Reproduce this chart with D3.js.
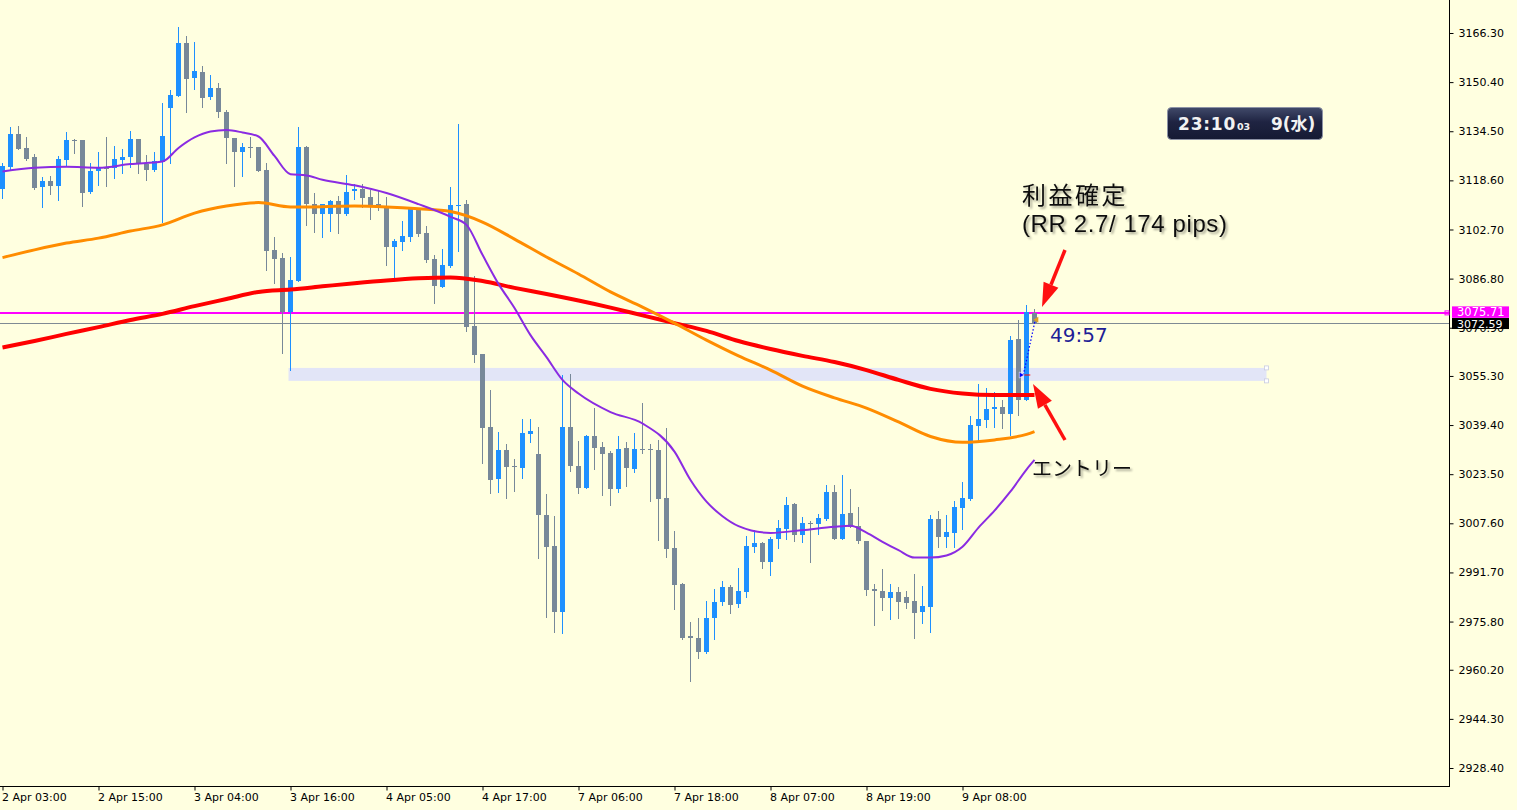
<!DOCTYPE html>
<html><head><meta charset="utf-8">
<script src="https://cdn.jsdelivr.net/npm/d3@7"></script>
<style>body{margin:0;background:#ffffe0;overflow:hidden}</style>
</head><body><svg id="c" width="1517" height="810"></svg>
<script>
// ---- data: hourly candles (index 0 = 2 Apr 03:00) ----
const opens=[3115.7,3123.0,3133.7,3129.1,3126.2,3116.6,3118.4,3116.9,3125.2,3131.7,3131.7,3114.9,3121.4,3122.5,3122.5,3125.2,3126.3,3132.0,3123.9,3122.0,
3124.6,3142.1,3146.0,3163.1,3151.8,3153.7,3145.4,3148.4,3140.6,3132.3,3127.9,3129.4,3129.4,3122.0,3096.1,3093.5,3076.1,3086.1,3129.4,3110.9,
3107.7,3107.7,3111.9,3107.7,3115.2,3115.8,3113.2,3110.9,3110.1,3097.1,3098.8,3100.0,3109.2,3101.6,3093.2,3084.2,3090.9,3110.4,3111.0,3071.5,
3062.4,3038.9,3021.9,3031.3,3026.0,3025.6,3036.6,3030.0,3010.3,3000.3,2979.0,3038.8,3026.2,3019.1,3035.9,3032.3,3030.4,3018.8,3031.9,3025.3,
3031.7,3031.6,3031.3,3015.8,2999.6,2988.0,2971.1,2970.5,2966.0,2977.0,2982.1,2987.0,2981.5,2985.5,3000.0,3001.2,2994.9,3002.5,3005.8,3013.9,
3003.9,3007.6,3007.2,3009.0,3017.7,3002.5,3010.9,3006.7,3001.9,2986.3,2985.7,2983.5,2985.4,2983.8,2982.5,2978.7,2980.6,3009.0,3003.3,3004.6,
3012.7,3015.5,3039.2,3041.1,3044.5,3045.3,3043.0,3067.3,3047.5,3075.7];
const highs=[3124.3,3136.0,3136.2,3132.7,3127.1,3119.8,3120.0,3126.5,3134.3,3132.0,3131.7,3124.3,3127.9,3132.6,3129.7,3128.8,3134.6,3132.0,3126.8,3127.8,
3143.7,3147.9,3168.3,3165.3,3163.4,3155.6,3152.7,3150.2,3141.4,3132.3,3130.6,3132.7,3129.4,3124.1,3100.4,3095.2,3093.9,3136.0,3129.7,3114.4,
3110.9,3112.2,3113.5,3120.3,3117.4,3117.4,3115.5,3115.5,3113.1,3099.6,3105.5,3109.2,3109.2,3103.8,3094.4,3096.4,3116.6,3136.8,3112.2,3087.7,
3062.4,3050.8,3037.3,3033.3,3028.4,3041.4,3041.4,3038.9,3017.1,3010.0,3055.6,3055.9,3034.2,3036.2,3044.8,3034.0,3031.1,3035.9,3034.0,3036.9,
3046.6,3033.3,3034.6,3038.5,3005.1,2988.4,2975.8,2977.0,2982.6,2986.3,2988.9,2987.6,2993.1,3003.5,3005.4,3001.6,3003.2,3008.7,3016.1,3014.2,
3009.6,3008.4,3010.6,3020.1,3020.0,3023.2,3018.7,3013.0,3001.9,2988.0,2992.8,2987.9,2987.0,2985.7,2991.2,2987.4,3010.3,3011.7,3010.3,3014.7,
3021.0,3042.4,3052.6,3051.5,3050.2,3047.5,3068.2,3073.4,3078.3,3076.9];
const lows=[3113.0,3122.0,3128.8,3125.2,3115.9,3110.1,3114.2,3112.2,3123.6,3127.4,3110.3,3114.6,3117.1,3116.8,3119.5,3121.1,3123.0,3121.1,3118.7,3121.7,
3105.2,3124.1,3145.8,3140.8,3148.2,3142.4,3144.9,3139.2,3124.3,3116.9,3120.1,3126.3,3121.7,3089.6,3085.5,3062.6,3057.2,3086.1,3104.2,3102.0,
3100.4,3102.3,3101.7,3107.4,3112.6,3110.1,3106.1,3109.0,3091.2,3087.4,3096.1,3099.1,3100.6,3092.3,3078.8,3084.2,3090.7,3095.8,3069.9,3059.9,
3027.2,3017.3,3017.8,3015.9,3018.1,3022.4,3034.0,2996.5,2977.4,2972.5,2972.2,3024.6,3017.5,3019.1,3025.1,3016.8,3013.5,3017.8,3019.7,3024.3,
3030.5,3014.9,3002.2,2996.8,2979.9,2970.2,2956.7,2964.1,2965.5,2970.2,2981.2,2978.7,2980.6,2983.9,2998.3,2993.2,2991.0,2999.7,3002.5,3001.9,
3001.7,2995.2,3004.2,3008.7,3002.5,3002.5,3006.5,3001.3,2984.5,2974.7,2979.5,2976.6,2977.0,2980.3,2970.4,2975.2,2972.5,3000.0,2999.8,3000.0,
3005.7,3015.2,3034.6,3038.9,3038.9,3038.6,3036.2,3042.7,3047.5,3072.6];
const closes=[3123.3,3133.7,3128.8,3125.6,3116.2,3118.4,3116.9,3125.5,3131.7,3131.6,3114.6,3121.6,3122.5,3122.4,3125.5,3126.2,3132.0,3124.1,3122.0,3124.8,
3133.0,3146.2,3163.1,3151.5,3154.0,3145.4,3148.4,3140.5,3132.1,3127.9,3129.4,3129.3,3121.7,3095.8,3093.2,3076.1,3086.4,3129.4,3110.9,3107.7,
3110.9,3111.9,3107.7,3114.9,3115.8,3113.0,3110.6,3110.1,3097.1,3099.0,3100.6,3109.2,3101.2,3092.8,3084.5,3091.2,3110.6,3110.5,3071.2,3062.1,
3038.6,3021.9,3031.3,3025.9,3025.9,3036.8,3037.5,3010.1,3000.0,2979.0,3038.8,3026.2,3019.1,3035.9,3032.1,3030.1,3018.8,3031.7,3025.3,3031.7,
3031.5,3031.5,3015.6,2999.4,2987.6,2970.4,2970.3,2966.0,2977.0,2982.1,2987.0,2981.3,2985.7,3000.3,3001.2,2994.9,3002.5,3006.1,3013.6,3003.9,
3007.7,3007.5,3009.3,3017.7,3002.5,3010.7,3006.5,3001.7,2986.2,2985.5,2983.5,2985.4,2982.2,2981.9,2978.5,2980.8,3009.0,3003.3,3004.8,3012.9,
3015.8,3039.4,3041.4,3044.6,3045.3,3043.0,3066.9,3047.5,3076.1,3072.6];

// moving averages (candle index, price)
const purpleIdx=[0,4,8,12,16,20,22,24,26,28,30,32,34,36,38,40,44,48,52,56,58,60,62,64,66,68,70,72,76,80,84,86,88,90,92,96,100,104,106,108,110,112,114,116,118,120,122,124,126,128,129];
const purpleVal=[3121.5,3122.7,3123.0,3122.7,3123.9,3124.7,3129.1,3132.5,3134.4,3134.9,3134.1,3132.8,3126.5,3120.6,3120.2,3118.8,3117.0,3114.5,3110.9,3106.8,
3104.2,3094.5,3085.1,3077.3,3068.5,3061.4,3054.0,3049.6,3043.6,3039.9,3030.8,3021.6,3014.6,3009.9,3006.7,3004.5,3005.4,3006.5,3006.8,3004.6,
3001.6,2998.9,2996.5,2996.5,2997.2,3000.0,3006.2,3011.7,3017.9,3025.0,3028.1];
const maIdx=[0,4,8,12,16,20,24,28,32,36,40,44,48,52,56,60,64,68,72,76,80,84,88,92,96,100,104,108,112,116,120,124,128,129];
const orangeVal=[3093.6,3096.1,3098.3,3099.9,3102.2,3104.2,3108.0,3110.3,3111.4,3110.0,3110.1,3110.3,3110.0,3109.4,3108.5,3105.1,3099.6,3093.8,3088.3,3082.5,
3077.6,3072.4,3066.9,3061.8,3057.2,3052.0,3048.2,3044.9,3040.4,3035.7,3033.8,3034.6,3036.4,3037.3];
const redVal=[3064.5,3066.6,3068.9,3071.1,3073.4,3075.4,3077.9,3080.2,3082.5,3083.3,3084.3,3085.3,3086.2,3086.9,3087.2,3086.0,3083.8,3081.8,3079.7,3077.4,
3074.9,3072.4,3069.9,3066.6,3064.0,3061.8,3059.8,3057.2,3054.0,3051.1,3049.6,3049.1,3049.1,3049.1];

const yTicks=[3166.30,3150.40,3134.50,3118.60,3102.70,3086.80,3070.90,3055.30,3039.40,3023.50,3007.60,2991.70,2975.80,2960.20,2944.30,2928.40];
const timeIdx=[0,12,24,36,48,60,72,84,96,108,120];
const timeLabels=["2 Apr 03:00","2 Apr 15:00","3 Apr 04:00","3 Apr 16:00","4 Apr 05:00","4 Apr 17:00","7 Apr 06:00","7 Apr 18:00","8 Apr 07:00","8 Apr 19:00","9 Apr 08:00"];

const tpLevel=3075.71, bidLevel=3072.59;
const zoneStartIdx=36, zoneEndIdx=158, zoneTop=3057.9, zoneBottom=3053.7;
const tradeIdx=[127.6,129.1], tradePrice=[3055.6,3073.5];

// ---- drawing ----
const W=1517,H=810,plotR=1449,plotB=786;
const svg=d3.select('#c');
const defs=svg.append('defs');
defs.append('clipPath').attr('id','clip').append('rect').attr('x',0).attr('y',0).attr('width',plotR).attr('height',plotB);
const gr=defs.append('linearGradient').attr('id','clk').attr('x1',0).attr('y1',0).attr('x2',0).attr('y2',1);
gr.append('stop').attr('offset','0%').attr('stop-color','#414a6a');
gr.append('stop').attr('offset','45%').attr('stop-color','#1f2442');
gr.append('stop').attr('offset','100%').attr('stop-color','#151a33');
const f=defs.append('filter').attr('id','sh').attr('x','-10%').attr('y','-30%').attr('width','130%').attr('height','170%');
f.append('feDropShadow').attr('dx',2).attr('dy',2).attr('stdDeviation',1.3).attr('flood-color','#000').attr('flood-opacity',0.35);

svg.append('rect').attr('width',W).attr('height',H).attr('fill','#ffffe0');

const x=d3.scaleLinear().domain([0,129]).range([2.5,1034.5]);
const y=d3.scaleLinear().domain([2928.40,3166.30]).range([768,33]);

const g=svg.append('g').attr('clip-path','url(#clip)');

// zone
g.append('rect').attr('x',x(zoneStartIdx)-2).attr('width',x(zoneEndIdx)-x(zoneStartIdx)+2)
 .attr('y',y(zoneTop)).attr('height',y(zoneBottom)-y(zoneTop)).attr('fill','#e2e5f7');
[zoneTop,zoneBottom].forEach(v=>g.append('rect').attr('x',x(zoneEndIdx)-2).attr('y',y(v)-2).attr('width',4).attr('height',4)
 .attr('fill','#fff').attr('stroke','#c8cbe0').attr('stroke-width',0.8));

// horizontal price lines
g.append('line').attr('x1',0).attr('x2',plotR).attr('y1',Math.round(y(bidLevel))+0.5).attr('y2',Math.round(y(bidLevel))+0.5)
 .attr('stroke','#7f8a94').attr('stroke-width',1);
g.append('line').attr('x1',0).attr('x2',plotR).attr('y1',Math.round(y(tpLevel))).attr('y2',Math.round(y(tpLevel)))
 .attr('stroke','#ff00ff').attr('stroke-width',2);

// candles
const data=opens.map((o,i)=>({i,o,h:highs[i],l:lows[i],c:closes[i]}));
const col=d=>d.c>d.o?'#1e90ff':'#778899';
g.selectAll('line.wick').data(data).join('line').attr('class','wick')
 .attr('x1',d=>x(d.i)).attr('x2',d=>x(d.i))
 .attr('y1',d=>Math.round(y(d.h))).attr('y2',d=>Math.round(y(d.l))+1)
 .attr('stroke',col).attr('stroke-width',1);
g.selectAll('rect.body').data(data).join('rect').attr('class','body')
 .attr('x',d=>x(d.i)-2.5).attr('width',5)
 .attr('y',d=>Math.round(y(Math.max(d.o,d.c))))
 .attr('height',d=>Math.max(1,Math.round(Math.abs(y(d.o)-y(d.c)))))
 .attr('fill',col);

// moving averages
const line=d3.line().x(d=>x(d[0])).y(d=>y(d[1])).curve(d3.curveMonotoneX);
g.append('path').attr('d',line(maIdx.map((k,j)=>[k,redVal[j]]))).attr('fill','none').attr('stroke','#ff0000').attr('stroke-width',4);
g.append('path').attr('d',line(maIdx.map((k,j)=>[k,orangeVal[j]]))).attr('fill','none').attr('stroke','#ff8c00').attr('stroke-width',3);
g.append('path').attr('d',line(purpleIdx.map((k,j)=>[k,purpleVal[j]]))).attr('fill','none').attr('stroke','#8a2be2').attr('stroke-width',2);

// trade line
g.append('line').attr('x1',x(tradeIdx[0])).attr('y1',y(tradePrice[0])).attr('x2',x(tradeIdx[1])).attr('y2',y(tradePrice[1]))
 .attr('stroke','#0000ff').attr('stroke-width',1.2).attr('stroke-dasharray','1.5,2');
g.append('path').attr('d',`M${x(tradeIdx[0])-4},${y(tradePrice[0])-3}l5,3l-5,3z`).attr('fill','#0000ff').attr('stroke','#fff').attr('stroke-width',0.6);
g.append('line').attr('x1',x(tradeIdx[0])+1).attr('x2',x(tradeIdx[0])+7).attr('y1',y(tradePrice[0])).attr('y2',y(tradePrice[0])).attr('stroke','#ff0000');
g.append('path').attr('d',`M${x(tradeIdx[1])-2},${y(tradePrice[1])}l5,-3l0,6z`).attr('fill','#e0a020');

// frame lines
svg.append('line').attr('x1',plotR+0.5).attr('x2',plotR+0.5).attr('y1',0).attr('y2',plotB+1).attr('stroke','#000');
svg.append('line').attr('x1',0).attr('x2',plotR+1).attr('y1',plotB+0.5).attr('y2',plotB+0.5).attr('stroke','#000');

// y axis
const ya=svg.append('g').attr('transform',`translate(${plotR+0.5},0)`)
 .call(d3.axisRight(y).tickValues(yTicks).tickFormat(d3.format('.2f')).tickSize(4).tickSizeOuter(0).tickPadding(5));
ya.select('.domain').remove();
ya.selectAll('text').attr('font-family','DejaVu Sans, sans-serif').attr('font-size',11).attr('fill','#000');

// x axis
const xa=svg.append('g').attr('transform',`translate(0,${plotB+0.5})`)
 .call(d3.axisBottom(x).tickValues(timeIdx).tickFormat((d,i)=>timeLabels[i]).tickSize(4).tickSizeOuter(0).tickPadding(3));
xa.select('.domain').remove();
xa.selectAll('text').attr('font-family','DejaVu Sans, sans-serif').attr('font-size',11).attr('fill','#000')
 .attr('text-anchor','start').attr('x',-1);

// price boxes
svg.append('rect').attr('x',1445).attr('y',y(tpLevel)-2).attr('width',4).attr('height',4).attr('fill','none').attr('stroke','#ff00ff');
svg.append('rect').attr('x',1452).attr('y',y(bidLevel)-4.5).attr('width',57).attr('height',11).attr('fill','#000');
svg.append('text').attr('x',1457).attr('y',y(bidLevel)+5).text(bidLevel.toFixed(2))
 .attr('font-family','DejaVu Sans, sans-serif').attr('font-size',11).attr('fill','#fff');
svg.append('rect').attr('x',1452).attr('y',y(tpLevel)-6.5).attr('width',57).attr('height',11.5).attr('fill','#ff00ff');
svg.append('text').attr('x',1457).attr('y',y(tpLevel)+3.5).text(tpLevel.toFixed(2))
 .attr('font-family','DejaVu Sans, sans-serif').attr('font-size',11.5).attr('fill','#fff');

// clock
svg.append('rect').attr('x',1167.5).attr('y',107.5).attr('width',155).attr('height',32).attr('rx',4)
 .attr('fill','url(#clk)').attr('stroke','#8d93a6').attr('stroke-width',1);
svg.append('text').attr('x',1178).attr('y',129.5).text('23:10')
 .attr('font-family','DejaVu Sans, sans-serif').attr('font-weight','bold').attr('font-size',17).attr('letter-spacing',0.8).attr('fill','#f2f2f2');
svg.append('text').attr('x',1237).attr('y',129.5).text('03')
 .attr('font-family','DejaVu Sans, sans-serif').attr('font-weight','bold').attr('font-size',9.5).attr('fill','#f2f2f2');
svg.append('text').attr('x',1271).attr('y',129.5).text('9(水)')
 .attr('font-family','DejaVu Sans, Noto Sans CJK JP, sans-serif').attr('font-weight','bold').attr('font-size',17).attr('fill','#f2f2f2');

// annotations
const ann=svg.append('g').attr('filter','url(#sh)');
ann.append('text').attr('x',1022).attr('y',204).text('利益確定')
 .attr('font-family','Noto Sans CJK JP, sans-serif').attr('font-size',24).attr('letter-spacing',2.5).attr('fill','#111');
ann.append('text').attr('x',1022).attr('y',232).text('(RR 2.7/ 174 pips)')
 .attr('font-family','Liberation Sans, Arial, sans-serif').attr('font-size',24).attr('letter-spacing',0.6).attr('fill','#111');
ann.append('text').attr('x',1032).attr('y',476).text('エントリー')
 .attr('font-family','Noto Sans CJK JP, sans-serif').attr('font-size',20).attr('fill','#111');
svg.append('text').attr('x',1050).attr('y',341.5).text('49:57')
 .attr('font-family','DejaVu Sans, sans-serif').attr('font-size',20).attr('fill','#1e1e96');

function arrow(x1,y1,x2,y2){
  const a=Math.atan2(y2-y1,x2-x1), L=24, hw=8;
  const bx=x2-L*Math.cos(a), by=y2-L*Math.sin(a);
  const px=-Math.sin(a), py=Math.cos(a);
  svg.append('line').attr('x1',x1).attr('y1',y1).attr('x2',bx).attr('y2',by).attr('stroke','#ff1010').attr('stroke-width',3.5);
  svg.append('path').attr('d',`M${x2},${y2}L${bx+px*hw},${by+py*hw}L${bx-px*hw},${by-py*hw}Z`).attr('fill','#ff1010');
}
arrow(1065,250,1042,307);
arrow(1065,440,1033,384);
</script></body></html>
